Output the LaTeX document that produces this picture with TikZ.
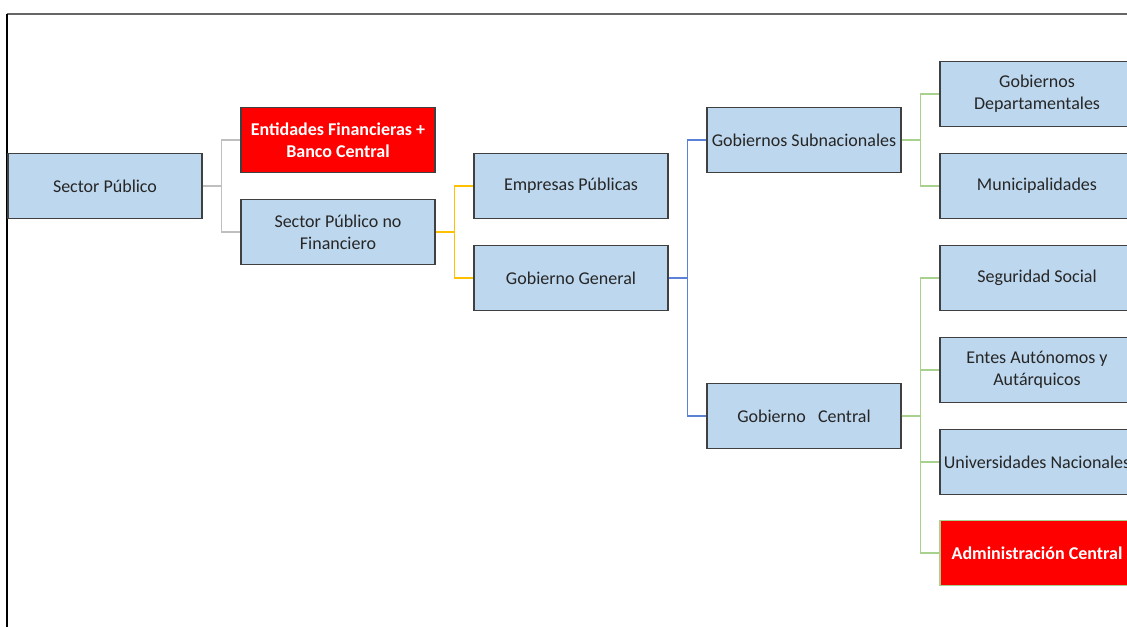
\documentclass[tikz,border=0pt]{standalone}
\usepackage{fontspec}
\setmainfont{Carlito}
\definecolor{boxblue}{RGB}{189,215,238}
\definecolor{boxline}{RGB}{64,64,64}
\definecolor{cgray}{RGB}{191,191,191}
\definecolor{cyellow}{RGB}{255,192,0}
\definecolor{cblue}{RGB}{91,130,214}
\definecolor{cgreen}{RGB}{169,209,142}
\begin{document}
\begin{tikzpicture}[x=1pt,y=-1pt,
  box/.style={draw=boxline,line width=1.3pt,fill=boxblue,minimum width=194pt,minimum height=65pt,
    align=center,font=\fontsize{18}{22}\selectfont,text=black!85,inner sep=1pt},
  redbox/.style={box,fill=red,text=white,font=\fontsize{18}{22}\selectfont\bfseries},
  conn/.style={line width=1.1pt}]
\useasboundingbox (0,0) rectangle (1127,627);
\clip (0,0) rectangle (1127,627);
\draw[line width=1.2pt,gray!80!black] (7,14) -- (1127,14);
\draw[line width=1.5pt,black] (7,14) -- (7,627);
\node[box] (sp) at (105,186) {Sector Público};
\node[redbox] (ent) at (338,140) {Entidades Financieras +\\Banco Central};
\node[box] (spnf) at (338,232) {Sector Público no\\Financiero};
\node[box] (emp) at (571,186) {Empresas Públicas};
\node[box] (gg) at (571,278) {Gobierno General};
\node[box] (gs) at (804,140) {Gobiernos Subnacionales};
\node[box] (gc) at (804,416) {Gobierno\ \ \ Central};
\node[box] (gd) at (1037,94) {Gobiernos\\Departamentales};
\node[box] (mun) at (1037,186) {Municipalidades};
\node[box] (ss) at (1037,278) {Seguridad Social};
\node[box] (ea) at (1037,370) {Entes Autónomos y\\Autárquicos};
\node[box] (un) at (1037,462) {Universidades Nacionales};
\node[redbox,draw=cgreen] (ac) at (1037,553) {Administración Central};
\draw[conn,cgray] (sp.east) -- ++(19,0) |- (ent.west);
\draw[conn,cgray] (sp.east) -- ++(19,0) |- (spnf.west);
\draw[conn,cyellow] (spnf.east) -- ++(19,0) |- (emp.west);
\draw[conn,cyellow] (spnf.east) -- ++(19,0) |- (gg.west);
\draw[conn,cblue] (gg.east) -- ++(19,0) |- (gs.west);
\draw[conn,cblue] (gg.east) -- ++(19,0) |- (gc.west);
\draw[conn,cgreen] (gs.east) -- ++(19,0) |- (gd.west);
\draw[conn,cgreen] (gs.east) -- ++(19,0) |- (mun.west);
\draw[conn,cgreen] (gc.east) -- ++(19,0) |- (ss.west);
\draw[conn,cgreen] (gc.east) -- ++(19,0) |- (ea.west);
\draw[conn,cgreen] (gc.east) -- ++(19,0) |- (un.west);
\draw[conn,cgreen] (gc.east) -- ++(19,0) |- (ac.west);
\end{tikzpicture}
\end{document}
